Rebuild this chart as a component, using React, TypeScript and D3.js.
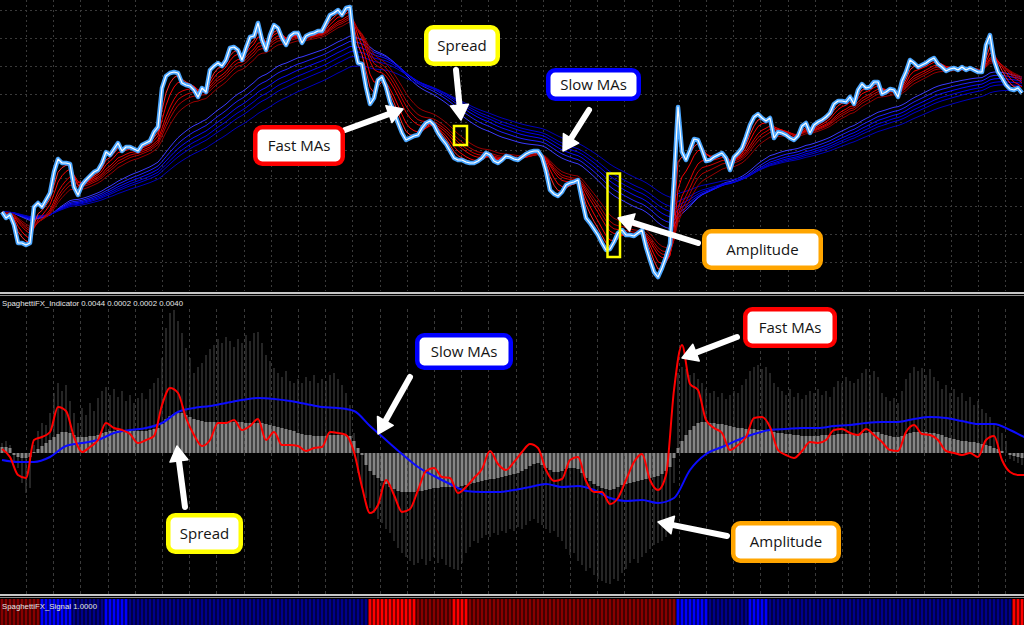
import React from 'react';
import * as d3 from 'd3';

// Closing prices in points above the panel base, one per bar (oldest first).
const closes = [
  88, 82, 85, 75, 57, 57, 55, 57, 93, 97, 93, 100, 107, 128, 141, 137, 137, 136, 113, 105,
  115, 120, 124, 128, 130, 137, 148, 145, 151, 157, 149, 153, 153, 151, 149, 155, 157, 159, 168, 173,
  212, 224, 227, 228, 227, 217, 215, 214, 210, 203, 212, 208, 230, 234, 237, 234, 240, 252, 253, 250,
  240, 252, 263, 264, 277, 260, 250, 265, 275, 272, 262, 255, 264, 267, 267, 257, 264, 266, 267, 269,
  269, 277, 285, 287, 290, 285, 292, 293, 255, 237, 236, 213, 196, 202, 220, 223, 213, 198, 188, 177,
  167, 160, 162, 164, 165, 172, 177, 179, 175, 167, 161, 156, 149, 142, 140, 140, 138, 137, 137, 139,
  142, 147, 145, 139, 137, 140, 144, 143, 141, 140, 143, 146, 148, 149, 149, 143, 129, 110, 106, 104,
  108, 115, 117, 118, 120, 100, 82, 77, 71, 65, 57, 50, 51, 58, 67, 70, 65, 65, 64, 67,
  70, 53, 40, 28, 23, 32, 43, 56, 120, 193, 148, 140, 150, 161, 160, 150, 139, 140, 143, 145,
  147, 142, 130, 143, 147, 152, 163, 175, 183, 186, 182, 179, 182, 162, 168, 167, 165, 162, 160, 164,
  174, 177, 167, 175, 178, 180, 183, 187, 196, 199, 199, 198, 203, 196, 210, 216, 212, 213, 218, 218,
  206, 208, 211, 210, 203, 219, 228, 240, 237, 233, 235, 237, 240, 242, 236, 233, 229, 231, 232, 230,
  233, 230, 232, 230, 228, 228, 255, 265, 240, 228, 222, 215, 211, 210, 212, 207,
];

// Guppy-style moving average ribbons.
const fastPeriods = [3, 5, 8, 10, 12, 15];
const slowPeriods = [30, 35, 40, 45, 50, 60];
const fastColors = ['#ff2a2a', '#ff0000', '#e60000', '#cc0000', '#b30000', '#990000'];
const slowColors = ['#3a3aff', '#2020ff', '#0a0aff', '#0000e6', '#0000d2', '#0000bd'];

// Indicator histogram: spread between ribbons and total ribbon amplitude, one per bar.
const spreadHist = [
  6, 6, 5, -2, -4, -5, -5, -4, 1, 4, 7, 10, 13, 16, 19, 21, 21, 20, 18, 16,
  16, 16, 17, 17, 18, 20, 21, 22, 22, 23, 23, 23, 23, 22, 22, 22, 22, 23, 24, 25,
  29, 34, 37, 39, 40, 40, 38, 36, 34, 33, 32, 31, 31, 31, 31, 31, 31, 31, 31, 31,
  31, 30, 30, 30, 30, 30, 29, 28, 27, 26, 25, 24, 23, 22, 20, 19, 18, 18, 17, 17,
  17, 17, 18, 18, 18, 18, 18, 17, 12, 5, -2, -12, -18, -22, -25, -28, -31, -34, -36, -38,
  -39, -39, -39, -39, -38, -38, -37, -36, -35, -35, -34, -34, -34, -34, -34, -33, -32, -31, -30, -29,
  -28, -27, -26, -26, -25, -24, -23, -22, -21, -20, -18, -16, -13, -11, -10, -12, -15, -17, -19, -19,
  -18, -16, -15, -15, -16, -20, -25, -28, -31, -33, -35, -36, -37, -36, -34, -32, -31, -30, -29, -28,
  -27, -26, -25, -24, -23, -21, -18, -14, -5, 5, 12, 18, 23, 27, 30, 31, 31, 30, 30, 29,
  29, 28, 27, 26, 25, 25, 24, 24, 24, 23, 23, 23, 22, 21, 20, 20, 19, 19, 18, 18,
  17, 17, 17, 17, 17, 18, 18, 18, 18, 19, 19, 19, 19, 19, 19, 20, 20, 21, 21, 21,
  19, 18, 17, 16, 16, 17, 19, 20, 21, 21, 21, 21, 20, 20, 19, 18, 16, 15, 14, 13,
  12, 12, 11, 11, 10, 9, 8, 7, 5, 4, 2, 0, -2, -3, -4, -5,
];
const amplitudeHist = [
  10, 12, 8, -8, -15, -30, -40, -35, 8, 22, 30, 28, 40, 60, 70, 62, 68, 52, 40, 30,
  45, 38, 50, 42, 55, 62, 66, 58, 64, 56, 62, 52, 58, 50, 55, 60, 54, 64, 70, 75,
  95, 125, 140, 143, 132, 120, 105, 95, 80, 86, 90, 98, 104, 108, 114, 110, 116, 112, 106, 114,
  110, 118, 112, 120, 121, 110, 98, 92, 85, 80, 76, 82, 72, 70, 74, 70, 76, 72, 78, 70,
  74, 72, 78, 80, 74, 68, 60, 48, 20, -20, -35, -45, -55, -60, -66, -70, -76, -80, -88, -95,
  -100, -104, -108, -112, -110, -106, -112, -108, -104, -110, -106, -112, -114, -116, -117, -110, -100, -94, -88, -90,
  -85, -82, -84, -80, -82, -78, -80, -76, -78, -74, -76, -72, -68, -66, -70, -72, -76, -80, -78, -84,
  -88, -96, -102, -100, -108, -112, -118, -115, -122, -126, -128, -130, -131, -126, -128, -120, -116, -110, -106, -110,
  -104, -100, -96, -92, -90, -88, -84, -70, -30, 80, 86, 84, 78, 80, 74, 70, 64, 60, 62, 56,
  60, 54, 58, 62, 60, 68, 74, 82, 86, 88, 84, 86, 80, 70, 66, 62, 58, 64, 56, 60,
  54, 58, 62, 60, 64, 58, 62, 56, 66, 72, 70, 76, 72, 70, 74, 80, 84, 78, 82, 76,
  60, 56, 52, 55, 50, 62, 74, 80, 86, 82, 85, 78, 84, 76, 72, 64, 68, 60, 64, 56,
  60, 52, 56, 48, 52, 44, 40, 36, 30, 26, 20, 12, -6, -8, -10, -12,
];

// Fast-ribbon line, one value every 2 bars.
const fastLine = [
  4, -4, -22, -25, 13, 16, 21, 46, 42, 16, 1, 6, 13, 30, 25, 23, 19, 10, 13, 17,
  48, 65, 60, 35, 18, 7, 13, 30, 30, 33, 23, 27, 34, 13, 21, 8, 8, 7, 2, 5,
  6, 21, 20, 18, 1, -34, -60, -52, -27, -42, -59, -56, -37, -18, -15, -24, -25, -40, -34, -25,
  -16, 2, -11, -17, -9, 1, 9, 5, -17, -28, -26, -7, -4, -28, -39, -39, -51, -45, -27, -9,
  -1, -27, -37, -22, 63, 108, 69, 63, 33, 25, 20, 3, 8, 16, 35, 36, 26, 3, -2, -5,
  2, 11, 10, 13, 23, 24, 20, 18, 24, 18, 11, 3, 2, 21, 28, 19, 18, 13, 2, 0,
  -2, 0, -4, 13, 17, -7, -19, -22, -22,
];
// Slow-ribbon line, one value every 4 bars.
const slowLine = [
  -7, -9, -9, -4, 7, 10, 13, 20, 23, 25, 30, 41, 45, 47, 50, 53, 55, 54, 52, 49,
  46, 45, 42, 27, 13, -1, -14, -23, -31, -38, -39, -39, -37, -34, -31, -34, -33, -37, -45, -48,
  -47, -50, -45, -17, -1, 6, 13, 19, 23, 24, 25, 25, 27, 28, 30, 31, 31, 34, 36, 35,
  32, 29, 29, 23, 15,
];

// Signal state runs: [state, bar count]; 2 strong up, 1 up, -1 down, -2 strong down.
const signalRuns: [number, number][] = [
  [-1, 10], [2, 8], [1, 8], [2, 6], [1, 60], [-2, 12], [-1, 9], [-2, 4], [-1, 52],
  [2, 8], [1, 10], [2, 5], [1, 61], [-2, 3],
];
const signalColors: Record<string, string> = {
  '2': '#0000ff',
  '1': '#00008a',
  '-1': '#880000',
  '-2': '#ff0000',
};

const indicatorLabel = 'SpaghettiFX_Indicator 0.0044 0.0002 0.0002 0.0040';
const signalLabel = 'SpaghettiFX_Signal 1.0000';

function ema(values: number[], period: number): number[] {
  const a = 2 / (period + 1);
  let e = values[0];
  return values.map((v, i) => (i === 0 ? e : (e = a * v + (1 - a) * e)));
}

const W = 1024;
const H = 625;
const TOP_BOTTOM = 291;
const LOW_TOP = 297;
const LOW_BOTTOM = 594;
const SIG_TOP = 599;

type BoxProps = { x0: number; y0: number; x1: number; y1: number; color: string; text: string };
function Callout({ x0, y0, x1, y1, color, text }: BoxProps) {
  const sw = 4.5;
  return (
    <g>
      <rect
        x={x0 + sw / 2}
        y={y0 + sw / 2}
        width={x1 - x0 - sw}
        height={y1 - y0 - sw}
        rx={7}
        fill="#ffffff"
        stroke={color}
        strokeWidth={sw}
      />
      <text
        x={(x0 + x1) / 2}
        y={(y0 + y1) / 2}
        dy="0.36em"
        textAnchor="middle"
        fontFamily="'Open Sans', 'Noto Sans', sans-serif"
        fontSize={15}
        fill="#141414"
      >
        {text}
      </text>
    </g>
  );
}

function Arrow({ x1, y1, x2, y2 }: { x1: number; y1: number; x2: number; y2: number }) {
  const dx = x2 - x1;
  const dy = y2 - y1;
  const len = Math.hypot(dx, dy);
  const ux = dx / len;
  const uy = dy / len;
  const L = 15;
  const hw = 9;
  const bx = x2 - ux * L;
  const by = y2 - uy * L;
  const nx = -uy;
  const ny = ux;
  return (
    <g>
      <line x1={x1} y1={y1} x2={bx + ux * 2} y2={by + uy * 2} stroke="#ffffff" strokeWidth={6} strokeLinecap="round" />
      <polygon
        points={`${x2},${y2} ${bx + nx * hw},${by + ny * hw} ${bx - nx * hw},${by - ny * hw}`}
        fill="#ffffff"
        stroke="#ffffff"
        strokeWidth={1.5}
        strokeLinejoin="round"
      />
    </g>
  );
}

export default function App() {
  const n = closes.length;
  const x = d3.scaleLinear().domain([0, n - 1]).range([2, 1022]);
  const yTop = d3.scaleLinear().domain([10, 300]).range([290, 0]);
  const yLow = d3.scaleLinear().domain([-141, 156]).range([LOW_BOTTOM, LOW_TOP]);

  const fastMAs = fastPeriods.map((p) => ema(closes, p));
  const slowMAs = slowPeriods.map((p) => ema(closes, p));

  const topLine = d3
    .line<number>()
    .x((_, i) => x(i))
    .y((d) => yTop(d))
    .curve(d3.curveLinear);

  const fastPath = d3
    .line<number>()
    .x((_, j) => x(j * 2))
    .y((d) => yLow(d))
    .curve(d3.curveMonotoneX);
  const slowPath = d3
    .line<number>()
    .x((_, k) => x(k * 4))
    .y((d) => yLow(d))
    .curve(d3.curveMonotoneX);

  const signal = signalRuns.flatMap(([s, c]) => Array(c).fill(s) as number[]);

  const vGrid = d3.range(0, 38).map((k) => 26 + 27.2 * k).filter((v) => v < W);
  const hGrid = d3.range(0, 10).map((k) => 10 + 28 * k);
  const zeroY = yLow(0);

  return (
    <svg
      width={W}
      height={H}
      viewBox={`0 0 ${W} ${H}`}
      style={{ position: 'fixed', left: 0, top: 0, display: 'block', background: '#000' }}
    >
      <defs>
        <clipPath id="clip-top">
          <rect x={0} y={0} width={W} height={TOP_BOTTOM} />
        </clipPath>
        <clipPath id="clip-low">
          <rect x={0} y={LOW_TOP} width={W} height={LOW_BOTTOM - LOW_TOP} />
        </clipPath>
      </defs>
      <rect x={0} y={0} width={W} height={H} fill="#000" />

      {/* price panel grid */}
      <g stroke="#3a3a3a" strokeWidth={1} strokeDasharray="2,3">
        {vGrid.map((gx) => (
          <line key={`tv${gx}`} x1={Math.round(gx) + 0.5} x2={Math.round(gx) + 0.5} y1={0} y2={TOP_BOTTOM} />
        ))}
        {hGrid.map((gy) => (
          <line key={`th${gy}`} x1={0} x2={W} y1={gy + 0.5} y2={gy + 0.5} />
        ))}
      </g>

      {/* price panel: slow ribbon, fast ribbon, price */}
      <g clipPath="url(#clip-top)" fill="none">
        {slowMAs.map((s, i) => (
          <path key={`s${i}`} d={topLine(s) || ''} stroke={slowColors[i]} strokeWidth={1} />
        ))}
        {fastMAs.map((s, i) => (
          <path key={`f${i}`} d={topLine(s) || ''} stroke={fastColors[i]} strokeWidth={1} />
        ))}
        <path d={topLine(closes) || ''} stroke="#4aa6ff" strokeWidth={4.5} strokeLinejoin="round" />
        <path d={topLine(closes) || ''} stroke="#ffffff" strokeWidth={1.2} strokeLinejoin="round" />
      </g>

      {/* panel separators */}
      <rect x={0} y={292} width={W} height={2} fill="#c8c8c8" />
      <rect x={0} y={295} width={W} height={1} fill="#8a8a8a" />
      <rect x={0} y={594} width={W} height={2} fill="#c8c8c8" />
      <rect x={0} y={597} width={W} height={1} fill="#8a8a8a" />

      {/* indicator panel grid */}
      <g stroke="#3a3a3a" strokeWidth={1} strokeDasharray="3,3">
        {vGrid.map((gx) => (
          <line key={`lv${gx}`} x1={Math.round(gx) + 0.5} x2={Math.round(gx) + 0.5} y1={LOW_TOP + 12} y2={LOW_BOTTOM} />
        ))}
      </g>

      {/* indicator panel */}
      <g clipPath="url(#clip-low)">
        {amplitudeHist.map((v, i) => (
          <rect
            key={`a${i}`}
            x={x(i) - 0.5}
            width={1}
            y={Math.min(yLow(v), zeroY)}
            height={Math.abs(yLow(v) - zeroY)}
            fill="#4a4a4a"
          />
        ))}
        {spreadHist.map((v, i) => (
          <rect
            key={`p${i}`}
            x={x(i) - 1.5}
            width={3}
            y={Math.min(yLow(v), zeroY)}
            height={Math.abs(yLow(v) - zeroY)}
            fill="#858585"
          />
        ))}
        <path d={slowPath(slowLine) || ''} fill="none" stroke="#0c0cff" strokeWidth={2} />
        <path d={fastPath(fastLine) || ''} fill="none" stroke="#ff0000" strokeWidth={2} />
      </g>
      <text
        x={2}
        y={306}
        fontFamily="'Liberation Sans', Arial, sans-serif"
        fontSize={8}
        fill="#e6e6e6"
        textLength={181}
        lengthAdjust="spacingAndGlyphs"
      >
        {indicatorLabel}
      </text>

      {/* signal strip */}
      {signal.map((s, i) => (
        <rect key={`g${i}`} x={x(i) - 1.5} width={3} y={SIG_TOP} height={H - SIG_TOP} fill={signalColors[String(s)]} />
      ))}
      <text
        x={2}
        y={609}
        fontFamily="'Liberation Sans', Arial, sans-serif"
        fontSize={8}
        fill="#e6e6e6"
        textLength={95}
        lengthAdjust="spacingAndGlyphs"
      >
        {signalLabel}
      </text>

      {/* annotations: price panel */}
      <rect x={454} y={126} width={13} height={19} fill="none" stroke="#ffff00" strokeWidth={2.5} />
      <rect x={607.5} y={173.5} width={12.5} height={83.5} fill="none" stroke="#ffff00" strokeWidth={2.5} />
      <Arrow x1={456} y1={70} x2={461} y2={120} />
      <Arrow x1={589} y1={110} x2={563} y2={151} />
      <Arrow x1={345} y1={130} x2={403} y2={109} />
      <Arrow x1={698} y1={243} x2={618} y2={218} />
      <Callout x0={424} y0={25} x1={500} y1={66} color="#ffff00" text="Spread" />
      <Callout x0={546} y0={68} x1={641} y1={101} color="#0000ff" text="Slow MAs" />
      <Callout x0={253} y0={125} x1={345} y1={166} color="#ff0000" text="Fast MAs" />
      <Callout x0={702} y0={229} x1={823} y1={270} color="#ffa500" text="Amplitude" />

      {/* annotations: indicator panel */}
      <Arrow x1={410} y1={377} x2={378} y2={434} />
      <Arrow x1={737} y1={337} x2={682} y2={358} />
      <Arrow x1={185} y1={507} x2={177} y2={446} />
      <Arrow x1={727} y1={536} x2={658} y2={522} />
      <Callout x0={415} y0={333} x1={513} y1={370} color="#0000ff" text="Slow MAs" />
      <Callout x0={743} y0={307} x1={837} y1={348} color="#ff0000" text="Fast MAs" />
      <Callout x0={166} y0={513} x1={243} y1={554} color="#ffff00" text="Spread" />
      <Callout x0={731} y0={521} x1={841} y1={563} color="#ffa500" text="Amplitude" />
    </svg>
  );
}
